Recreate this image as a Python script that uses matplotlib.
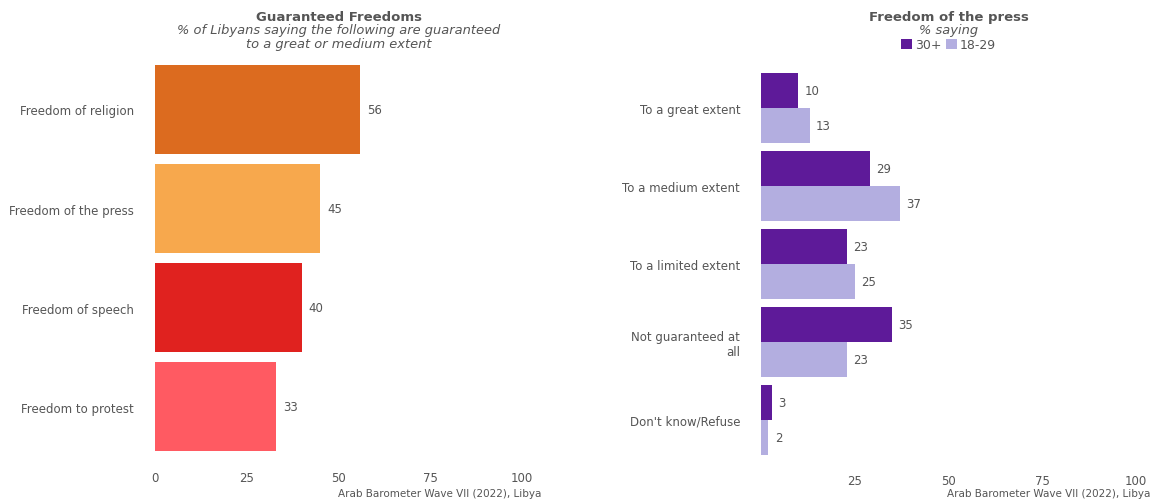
import matplotlib.pyplot as plt
import numpy as np

plt.rcParams['font.family'] = ['DejaVu Sans']

# left panel data
freedoms = ['Freedom of religion', 'Freedom of the press', 'Freedom of speech', 'Freedom to protest']
freedom_vals = [56, 45, 40, 33]
freedom_colors = ['#DC6B1F', '#F7A84D', '#E0221F', '#FF5A62']

# right panel data
press_cats = ['To a great extent', 'To a medium extent', 'To a limited extent',
              'Not guaranteed at\nall', "Don't know/Refuse"]
older = [10, 29, 23, 35, 3]
younger = [13, 37, 25, 23, 2]
age_labels = ['30+', '18-29']
age_colors = ['#5E1A99', '#B3AEE0']

grey = '#555555'
fig = plt.figure(figsize=(11.53, 5.02), dpi=100)

# --- left: guaranteed freedoms
ax1 = fig.add_axes([0.1344, 0.0896, 0.3183, 0.7889])
y = np.arange(len(freedoms))
ax1.barh(y, freedom_vals, height=0.9, color=freedom_colors)
for yi, v in zip(y, freedom_vals):
    ax1.annotate(str(v), (v, yi), xytext=(5, 0), textcoords='offset points',
                 va='center', ha='left', fontsize=8.5, color=grey)
ax1.set_ylim(len(freedoms) - 0.5, -0.5)
ax1.set_yticks(y)
ax1.set_yticklabels(freedoms)
ax1.set_xlim(0, 100)
ax1.set_xticks([0, 25, 50, 75, 100])

# --- right: freedom of the press by age
ax2 = fig.add_axes([0.660, 0.0837, 0.3253, 0.7769])
y2 = np.arange(len(press_cats))
h = 0.45
ax2.barh(y2 - h / 2, older, height=h, color=age_colors[0], label=age_labels[0])
ax2.barh(y2 + h / 2, younger, height=h, color=age_colors[1], label=age_labels[1])
for yi, v in zip(y2 - h / 2, older):
    ax2.annotate(str(v), (v, yi), xytext=(4.5, 0), textcoords='offset points',
                 va='center', ha='left', fontsize=8.5, color=grey)
for yi, v in zip(y2 + h / 2, younger):
    ax2.annotate(str(v), (v, yi), xytext=(4.5, 0), textcoords='offset points',
                 va='center', ha='left', fontsize=8.5, color=grey)
ax2.set_ylim(len(press_cats) - 0.5, -0.5)
ax2.set_yticks(y2)
ax2.set_yticklabels(press_cats)
ax2.set_xlim(0, 100)
ax2.set_xticks([25, 50, 75, 100])

for ax in (ax1, ax2):
    for s in ax.spines.values():
        s.set_visible(False)
    ax.tick_params(length=0, labelsize=8.5, labelcolor=grey)
    ax.tick_params(axis='y', pad=15)
    ax.tick_params(axis='x', pad=10.5)

# titles
fig.text(0.2936, 0.966, 'Guaranteed Freedoms', ha='center', va='center',
         fontsize=9.5, fontweight='bold', color=grey)
fig.text(0.2936, 0.940, '% of Libyans saying the following are guaranteed',
         ha='center', va='center', fontsize=9.4, style='italic', color=grey)
fig.text(0.2936, 0.912, 'to a great or medium extent',
         ha='center', va='center', fontsize=9.4, style='italic', color=grey)
fig.text(0.8226, 0.966, 'Freedom of the press', ha='center', va='center',
         fontsize=9.5, fontweight='bold', color=grey)
fig.text(0.8226, 0.940, '% saying', ha='center', va='center',
         fontsize=9.4, style='italic', color=grey)
fig.legend(loc='center', bbox_to_anchor=(0.8226, 0.909), ncol=2, frameon=False,
           handlelength=0.9, handleheight=0.9, handletextpad=0.2, columnspacing=0.4,
           fontsize=9, labelcolor=grey, borderpad=0)

# captions
fig.text(0.4697, 0.006, 'Arab Barometer Wave VII (2022), Libya', ha='right', va='bottom',
         fontsize=7.5, color=grey)
fig.text(0.9975, 0.006, 'Arab Barometer Wave VII (2022), Libya', ha='right', va='bottom',
         fontsize=7.5, color=grey)

fig.savefig('out.png', dpi=100)
